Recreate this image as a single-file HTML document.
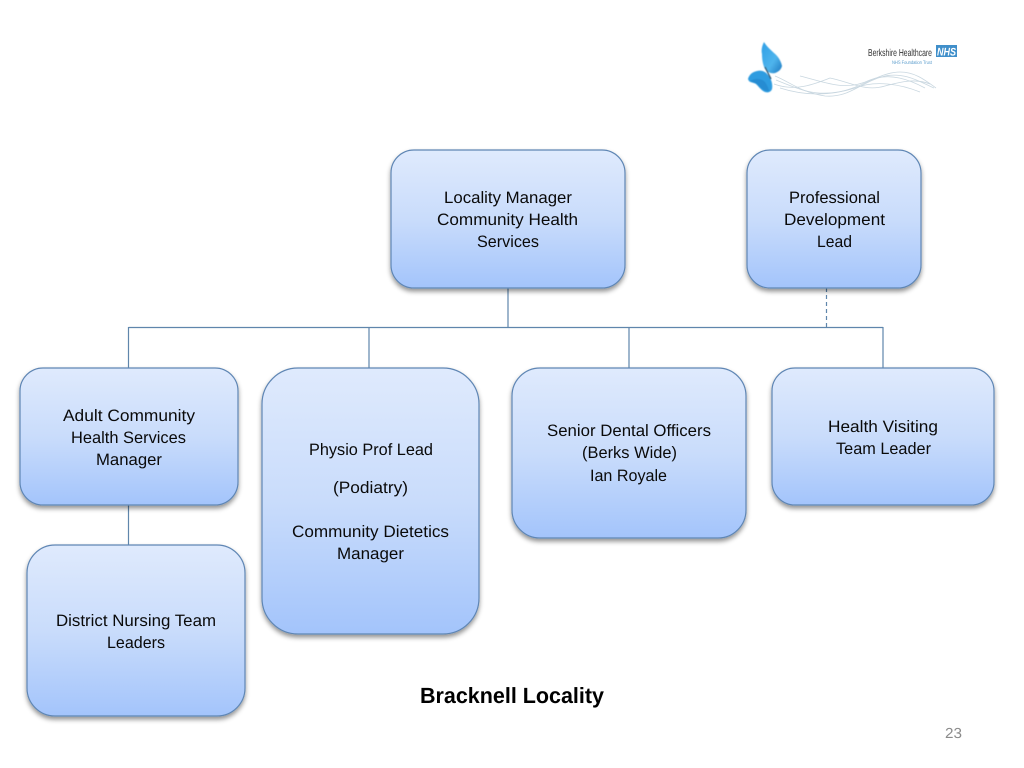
<!DOCTYPE html>
<html><head><meta charset="utf-8"><style>
html,body{margin:0;padding:0;background:#fff;width:1024px;height:768px;overflow:hidden}
svg{display:block}
text{font-family:"Liberation Sans",sans-serif;font-size:16.5px;fill:#0a0a0a;text-anchor:start;text-rendering:geometricPrecision}
rect.b{fill:url(#g);stroke:#5f86b4;stroke-width:1.2;filter:url(#s)}
</style></head><body>
<svg width="1024" height="768" viewBox="0 0 1024 768" xmlns="http://www.w3.org/2000/svg">
<defs>
<linearGradient id="g" x1="0" y1="0" x2="0" y2="1"><stop offset="0" stop-color="#dfeafd"/><stop offset=".5" stop-color="#c9dcfb"/><stop offset="1" stop-color="#a3c4fb"/></linearGradient>
<filter id="s" x="-10%" y="-10%" width="120%" height="120%"><feDropShadow dx="0" dy="3" stdDeviation="2.500" flood-color="#000" flood-opacity=".42"/></filter>
<filter id="bl" x="-30%" y="-30%" width="160%" height="160%"><feGaussianBlur stdDeviation=".6"/></filter>
<filter id="bl2" x="-5%" y="-30%" width="110%" height="160%"><feGaussianBlur stdDeviation=".35"/></filter>
<linearGradient id="bf" x1="0" y1="0" x2="1" y2="1"><stop offset="0" stop-color="#2f9fe6"/><stop offset=".6" stop-color="#4fb4ec"/><stop offset="1" stop-color="#1c78c0"/></linearGradient>
</defs>

<g stroke="#5f86ac" stroke-width="1.2" fill="none">
<path d="M508 288V327M128.500 327.500H883M128.500 327V368M369 327V368M629 327V368M883 327V368M128.500 505V545"/>
<path d="M826.500 288V327" stroke-dasharray="4 3"/>
</g>

<rect class="b" x="391" y="150" width="234" height="138" rx="23"/>
<rect class="b" x="747" y="150" width="174" height="138" rx="23"/>
<rect class="b" x="20" y="368" width="218" height="137" rx="23"/>
<rect class="b" x="262" y="368" width="217" height="266" rx="36"/>
<rect class="b" x="512" y="368" width="234" height="170" rx="28"/>
<rect class="b" x="772" y="368" width="222" height="137" rx="23"/>
<rect class="b" x="27" y="545" width="218" height="171" rx="28"/>

<g>
<text x="444" y="203" textLength="128" lengthAdjust="spacingAndGlyphs">Locality Manager</text>
<text x="437" y="225" textLength="141" lengthAdjust="spacingAndGlyphs">Community Health</text>
<text x="477" y="247" textLength="62" lengthAdjust="spacingAndGlyphs">Services</text>
<text x="789" y="203" textLength="91" lengthAdjust="spacingAndGlyphs">Professional</text>
<text x="784" y="225" textLength="101" lengthAdjust="spacingAndGlyphs">Development</text>
<text x="817" y="247" textLength="35" lengthAdjust="spacingAndGlyphs">Lead</text>
<text x="63" y="421" textLength="132" lengthAdjust="spacingAndGlyphs">Adult Community</text>
<text x="71" y="443" textLength="115" lengthAdjust="spacingAndGlyphs">Health Services</text>
<text x="96" y="465" textLength="66" lengthAdjust="spacingAndGlyphs">Manager</text>
<text x="309" y="455" textLength="124" lengthAdjust="spacingAndGlyphs">Physio Prof Lead</text>
<text x="333" y="493" textLength="75" lengthAdjust="spacingAndGlyphs">(Podiatry)</text>
<text x="292" y="537" textLength="157" lengthAdjust="spacingAndGlyphs">Community Dietetics</text>
<text x="337" y="559" textLength="67" lengthAdjust="spacingAndGlyphs">Manager</text>
<text x="547" y="436" textLength="164" lengthAdjust="spacingAndGlyphs">Senior Dental Officers</text>
<text x="582" y="458" textLength="95" lengthAdjust="spacingAndGlyphs">(Berks Wide)</text>
<text x="590" y="481" textLength="77" lengthAdjust="spacingAndGlyphs">Ian Royale</text>
<text x="828" y="432" textLength="110" lengthAdjust="spacingAndGlyphs">Health Visiting</text>
<text x="836" y="454" textLength="95" lengthAdjust="spacingAndGlyphs">Team Leader</text>
<text x="56" y="626" textLength="160" lengthAdjust="spacingAndGlyphs">District Nursing Team</text>
<text x="107" y="648" textLength="58" lengthAdjust="spacingAndGlyphs">Leaders</text>
<text x="420" y="703" textLength="184" lengthAdjust="spacingAndGlyphs" style="font-size:22px;font-weight:bold;fill:#000">Bracknell Locality</text>
<text x="945" y="738" textLength="17" lengthAdjust="spacingAndGlyphs" style="font-size:14.500px;fill:#8a8a8a">23</text>
</g>

<!-- logo -->
<g fill="none" stroke="#c9d7e0" stroke-width=".8" filter="url(#bl2)">
<path d="M775 76C790 82 800 92 825 96C850 98 860 82 885 76C905 72 920 82 934 88"/>
<path d="M776 80C800 90 815 96 838 92C862 88 880 72 900 72C915 72 925 80 936 88"/>
<path d="M774 84C795 92 815 84 830 78C850 82 865 92 885 86C900 82 915 78 930 84"/>
<path d="M800 76C825 82 845 92 870 80C890 72 910 80 925 88"/>
<path d="M780 88C805 96 830 96 855 88C875 80 900 84 920 92"/>
</g>
<g filter="url(#bl)">
<path d="M764 42C762 46 761 50 762 54C762 60 763 65 765 69C767 72 771 74 775 73C778 72 781 70 782 66C781 61 778 56 774 53C771 50 767 47 764 42Z" fill="url(#bf)"/>
<path d="M748 79C749 75 752 72 757 71C761 70 765 71 768 75C771 78 773 84 772 89C771 92 768 93 765 92C762 91 759 87 756 84C753 82 749 83 748 79Z" fill="#2f9ce0"/>
<path d="M750 81C755 78 761 78 765 82C767 85 769 89 769 91C765 92 761 88 757 84Z" fill="#1f7fc6" opacity=".55"/>
<path d="M765 67L771 79" stroke="#33566e" stroke-width="1.3" fill="none"/>
</g>
<g filter="url(#bl2)">
<text x="868" y="56" textLength="64" lengthAdjust="spacingAndGlyphs" style="font-size:10px;fill:#333">Berkshire Healthcare</text>
<rect x="936" y="45" width="21" height="12" fill="#3f8fca"/>
<text x="937" y="55.500" textLength="19" lengthAdjust="spacingAndGlyphs" style="font-size:11px;font-weight:bold;font-style:italic;fill:#fff">NHS</text>
<text x="892" y="64" textLength="40" lengthAdjust="spacingAndGlyphs" style="font-size:5px;fill:#5a9ccc">NHS Foundation Trust</text>
</g>
</svg>
</body></html>
